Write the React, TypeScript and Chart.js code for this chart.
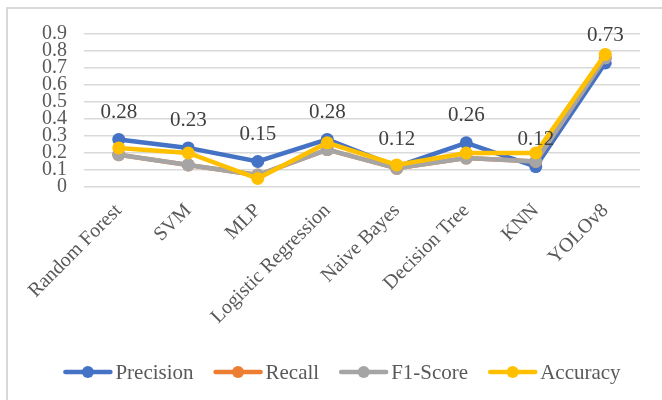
import React, { useEffect, useRef } from "react";
import { Chart, registerables } from "chart.js";

Chart.register(...registerables);

const categories = [
  "Random Forest",
  "SVM",
  "MLP",
  "Logistic Regression",
  "Naive Bayes",
  "Decision Tree",
  "KNN",
  "YOLOv8",
];
const precision = [0.28, 0.23, 0.15, 0.28, 0.12, 0.26, 0.12, 0.73];
const recall = [0.19, 0.13, 0.07, 0.22, 0.11, 0.17, 0.15, 0.76];
const f1Score = [0.19, 0.13, 0.07, 0.22, 0.11, 0.17, 0.15, 0.76];
const accuracy = [0.23, 0.2, 0.05, 0.26, 0.13, 0.2, 0.2, 0.78];
const seriesNames = ["Precision", "Recall", "F1-Score", "Accuracy"];
const seriesColors = ["#4472C4", "#ED7D31", "#A5A5A5", "#FFC000"];
const yMin = 0;
const yMax = 0.9;
const yStep = 0.1;

const FONT = '"Liberation Serif", "Times New Roman", serif';

const backgroundPlugin = {
  id: "bgBorder",
  beforeDraw(chart: any) {
    const { ctx, width, height } = chart;
    ctx.save();
    ctx.fillStyle = "#ffffff";
    ctx.fillRect(0, 0, width, height);
    ctx.strokeStyle = "#d9d9d9";
    ctx.lineWidth = 2;
    ctx.beginPath();
    ctx.moveTo(7, height);
    ctx.lineTo(7, 8);
    ctx.lineTo(width, 8);
    ctx.stroke();
    ctx.restore();
  },
};

const dataLabelPlugin = {
  id: "precisionLabels",
  afterDatasetsDraw(chart: any) {
    const { ctx } = chart;
    const meta = chart.getDatasetMeta(0);
    const values = chart.data.datasets[0].data as number[];
    ctx.save();
    ctx.font = `21px ${FONT}`;
    ctx.fillStyle = "#404040";
    ctx.textAlign = "center";
    ctx.textBaseline = "middle";
    meta.data.forEach((pt: any, i: number) => {
      ctx.fillText(values[i].toFixed(2), pt.x, pt.y - 27);
    });
    ctx.restore();
  },
};

const legendPlugin = {
  id: "customLegend",
  afterDraw(chart: any) {
    const { ctx } = chart;
    ctx.save();
    ctx.font = `21px ${FONT}`;
    const markerW = 49;
    const textGap = 3;
    const itemGap = 20;
    const widths = seriesNames.map((n) => ctx.measureText(n).width);
    const total =
      widths.reduce((a, w) => a + markerW + textGap + w, 0) +
      itemGap * (seriesNames.length - 1);
    let x = 342 - total / 2;
    const y = 372;
    seriesNames.forEach((name, i) => {
      const c = seriesColors[i];
      ctx.strokeStyle = c;
      ctx.lineWidth = 4.5;
      ctx.lineCap = "round";
      ctx.beginPath();
      ctx.moveTo(x + 2, y);
      ctx.lineTo(x + markerW - 2, y);
      ctx.stroke();
      ctx.fillStyle = c;
      ctx.beginPath();
      ctx.arc(x + markerW / 2, y, 6, 0, Math.PI * 2);
      ctx.fill();
      ctx.fillStyle = "#595959";
      ctx.textAlign = "left";
      ctx.textBaseline = "middle";
      ctx.fillText(name, x + markerW + textGap, y + 1);
      x += markerW + textGap + widths[i] + itemGap;
    });
    ctx.restore();
  },
};

export default function App() {
  const canvasRef = useRef<HTMLCanvasElement | null>(null);

  useEffect(() => {
    if (!canvasRef.current) return;
    const series = [precision, recall, f1Score, accuracy];
    const chart = new Chart(canvasRef.current, {
      type: "line",
      data: {
        labels: categories,
        datasets: series.map((d, i) => ({
          label: seriesNames[i],
          data: d,
          borderColor: seriesColors[i],
          backgroundColor: seriesColors[i],
          pointBackgroundColor: seriesColors[i],
          pointBorderColor: seriesColors[i],
          borderWidth: 4.5,
          pointRadius: 6.5,
          pointBorderWidth: 0,
          tension: 0,
          order: 3 - i,
          clip: false as any,
        })),
      },
      options: {
        responsive: false,
        animation: false,
        layout: { padding: { left: 8, top: 34, right: 22, bottom: 0 } },
        plugins: {
          legend: { display: false },
          tooltip: { enabled: false },
          title: { display: false },
        },
        scales: {
          x: {
            offset: true,
            grid: { display: false, drawTicks: false },
            border: { display: false },
            ticks: {
              autoSkip: false,
              minRotation: 45,
              maxRotation: 45,
              padding: 12,
              color: "#595959",
              font: { family: FONT, size: 20 },
            },
            afterFit(scale: any) {
              scale.height = 213;
            },
          },
          y: {
            min: yMin,
            max: yMax,
            grid: { color: "#d9d9d9", lineWidth: 1.5, drawTicks: false },
            border: { display: false },
            ticks: {
              stepSize: yStep,
              autoSkip: false,
              padding: 17,
              color: "#595959",
              font: { family: FONT, size: 20 },
              callback: (v: any) => String(Number(Number(v).toFixed(1))),
            },
            afterFit(scale: any) {
              scale.width = 76;
            },
          },
        },
      },
      plugins: [backgroundPlugin, dataLabelPlugin, legendPlugin],
    });
    return () => chart.destroy();
  }, []);

  return (
    <div style={{ position: "absolute", left: 0, top: 0, width: 662, height: 400 }}>
      <canvas ref={canvasRef} width={662} height={400} style={{ display: "block" }} />
    </div>
  );
}
